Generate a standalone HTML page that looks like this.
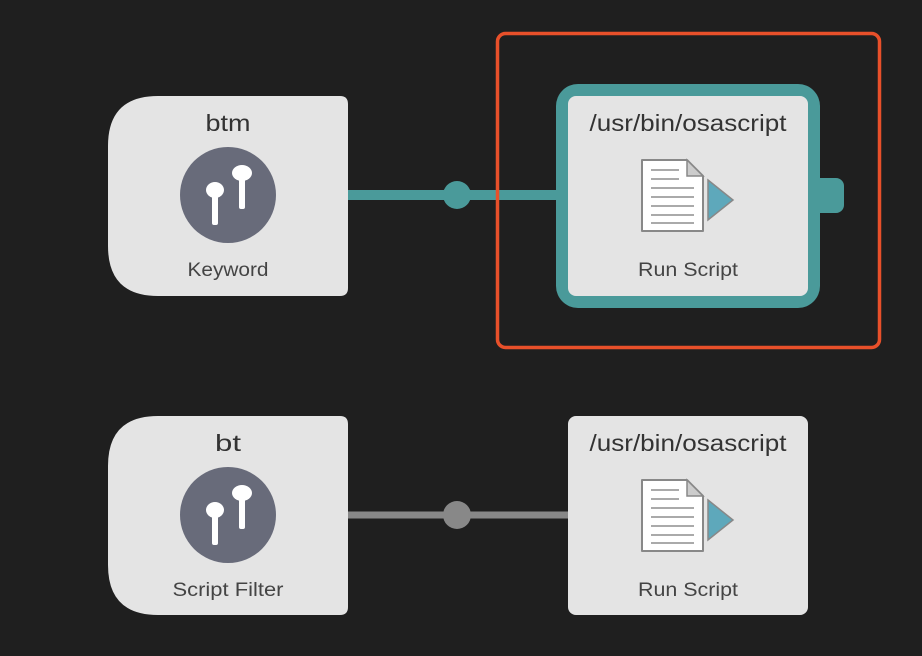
<!DOCTYPE html>
<html><head><meta charset="utf-8"><style>
html,body{margin:0;padding:0;background:#1f1f1f;}
svg{display:block}
text{font-family:"Liberation Sans",sans-serif;text-anchor:middle}
</style></head><body>
<svg width="922" height="656" viewBox="0 0 922 656">
<defs>
<g id="buds">
  <circle cx="0" cy="0" r="48" fill="#686b7a"/>
  <g fill="#fff">
    <ellipse cx="-13" cy="-5" rx="9" ry="8"/>
    <rect x="-16" y="-4" width="6" height="34" rx="2"/>
    <ellipse cx="14" cy="-22" rx="10" ry="8"/>
    <rect x="11" y="-20" width="6" height="34" rx="2"/>
  </g>
</g>
<g id="doc">
  <path d="M0 0 H45 L61 16 V71 H0 Z" fill="#fff" stroke="#888" stroke-width="2" stroke-linejoin="round"/>
  <path d="M45 0 V16 H61 Z" fill="#ccc" stroke="#888" stroke-width="1.5"/>
  <g stroke="#aaa" stroke-width="2">
    <line x1="9" y1="10" x2="37" y2="10"/><line x1="9" y1="19" x2="37" y2="19"/>
    <line x1="9" y1="28" x2="52" y2="28"/><line x1="9" y1="37" x2="52" y2="37"/>
    <line x1="9" y1="46" x2="52" y2="46"/><line x1="9" y1="55" x2="52" y2="55"/>
    <line x1="9" y1="63" x2="52" y2="63"/>
  </g>
  <path d="M66 20 L91 40 L66 60 Z" fill="#5ea8bb" stroke="#888" stroke-width="1.5"/>
</g>
</defs>

<line x1="348" y1="195" x2="560" y2="195" stroke="#4a9a9a" stroke-width="10"/>
<circle cx="457" cy="195" r="14" fill="#4a9a9a"/>
<line x1="348" y1="515" x2="570" y2="515" stroke="#888" stroke-width="7"/>
<circle cx="457" cy="515" r="14" fill="#888"/>

<rect x="497.5" y="33.5" width="382" height="314" rx="8" fill="none" stroke="#e8502a" stroke-width="3.5"/>

<path d="M158 96 H340 Q348 96 348 104 V288 Q348 296 340 296 H158 Q108 296 108 246 V146 Q108 96 158 96 Z" fill="#e4e4e4"/>
<text x="228" y="131" font-size="23" fill="#333" textLength="45" lengthAdjust="spacingAndGlyphs">btm</text>
<use href="#buds" x="228" y="195"/>
<text x="228" y="276" font-size="19" fill="#444" textLength="81" lengthAdjust="spacingAndGlyphs">Keyword</text>

<rect x="812" y="178" width="32" height="35" rx="8" fill="#4a9a9a"/>
<rect x="556" y="84" width="264" height="224" rx="22" fill="#4a9a9a"/>
<rect x="568" y="96" width="240" height="200" rx="8" fill="#e4e4e4"/>
<text x="688" y="131" font-size="23" fill="#333" textLength="197" lengthAdjust="spacingAndGlyphs">/usr/bin/osascript</text>
<use href="#doc" x="642" y="160"/>
<text x="688" y="276" font-size="19" fill="#444" textLength="100" lengthAdjust="spacingAndGlyphs">Run Script</text>

<path d="M158 416 H340 Q348 416 348 424 V607 Q348 615 340 615 H158 Q108 615 108 565 V466 Q108 416 158 416 Z" fill="#e4e4e4"/>
<text x="228" y="451" font-size="23" fill="#333" textLength="26" lengthAdjust="spacingAndGlyphs">bt</text>
<use href="#buds" x="228" y="515"/>
<text x="228" y="596" font-size="19" fill="#444" textLength="111" lengthAdjust="spacingAndGlyphs">Script Filter</text>

<rect x="568" y="416" width="240" height="199" rx="8" fill="#e4e4e4"/>
<text x="688" y="451" font-size="23" fill="#333" textLength="197" lengthAdjust="spacingAndGlyphs">/usr/bin/osascript</text>
<use href="#doc" x="642" y="480"/>
<text x="688" y="596" font-size="19" fill="#444" textLength="100" lengthAdjust="spacingAndGlyphs">Run Script</text>
</svg>
</body></html>
